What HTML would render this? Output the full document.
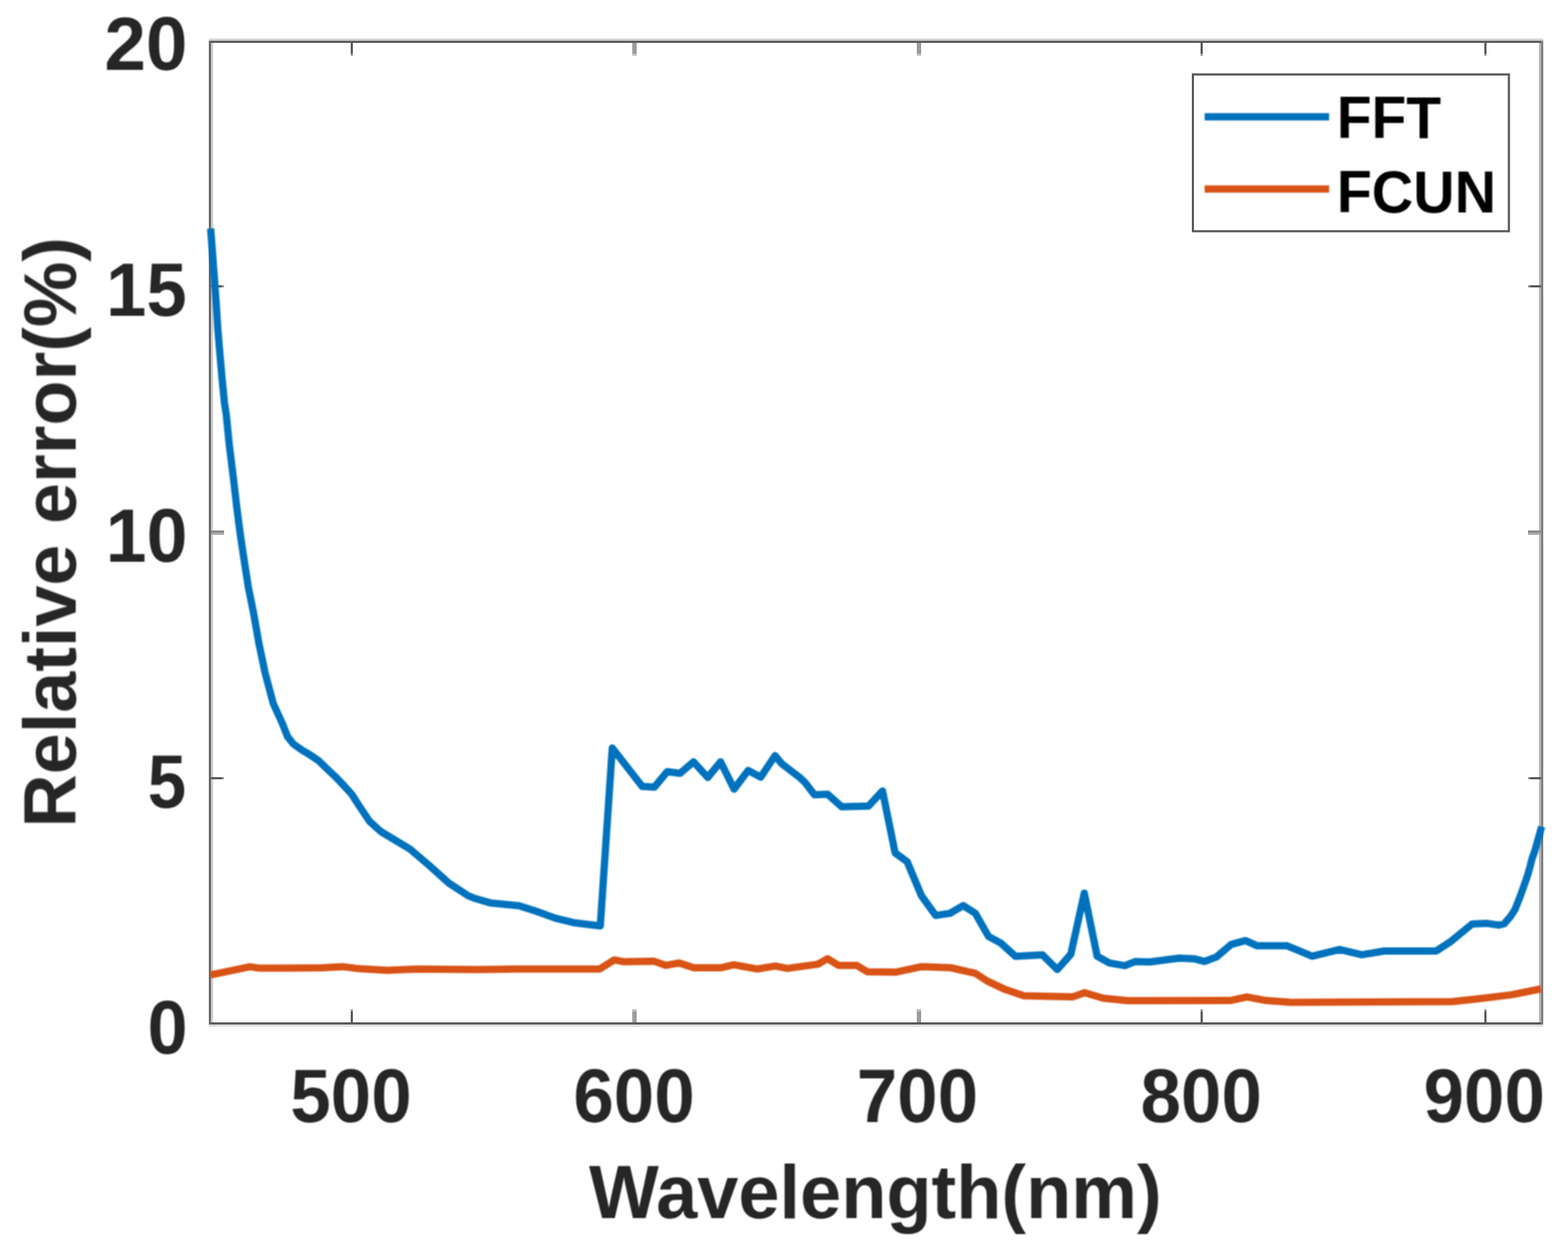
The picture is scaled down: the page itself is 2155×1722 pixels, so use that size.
<!DOCTYPE html>
<html><head><meta charset="utf-8"><title>Relative error vs Wavelength</title>
<style>html,body{margin:0;padding:0;background:#ffffff;overflow:hidden;width:2155px;height:1722px;}svg{display:block;}</style></head>
<body>
<svg width="2155" height="1722" viewBox="0 0 2155 1722">
<defs><filter id="soft" x="-2%" y="-2%" width="104%" height="104%"><feConvolveMatrix order="3" kernelMatrix="1 1 1 1 1 1 1 1 1" divisor="9" edgeMode="none"/></filter></defs>
<rect x="0" y="0" width="2155" height="1722" fill="#ffffff"/>
<rect x="287" y="53" width="1834" height="3" fill="#d3d3d3"/>
<rect x="287" y="56" width="1834" height="3" fill="#5e5e5e"/>
<rect x="287" y="1405" width="1834" height="3" fill="#5a5a5a"/>
<rect x="287" y="1408" width="1834" height="3" fill="#dedede"/>
<rect x="290" y="59" width="3" height="1346" fill="#d0d0d0"/>
<rect x="287" y="56" width="3" height="1352" fill="#686868"/>
<rect x="2115" y="59" width="3" height="1346" fill="#b8b8b8"/>
<rect x="2118" y="56" width="3" height="1352" fill="#808080"/>
<rect x="482" y="1390" width="3" height="15" fill="#5a5a5a"/><rect x="482" y="1387" width="3" height="3" fill="#9a9a9a"/>
<rect x="482" y="59" width="3" height="15" fill="#5a5a5a"/><rect x="482" y="74" width="3" height="3" fill="#a8a8a8"/>
<rect x="869" y="1390" width="6" height="15" fill="#9c9c9c"/><rect x="869" y="1387" width="6" height="3" fill="#bdbdbd"/>
<rect x="869" y="59" width="6" height="15" fill="#9c9c9c"/><rect x="869" y="74" width="6" height="3" fill="#c8c8c8"/>
<rect x="1260" y="1390" width="6" height="15" fill="#9c9c9c"/><rect x="1260" y="1387" width="6" height="3" fill="#bdbdbd"/>
<rect x="1260" y="59" width="6" height="15" fill="#9c9c9c"/><rect x="1260" y="74" width="6" height="3" fill="#c8c8c8"/>
<rect x="1650" y="1390" width="3" height="15" fill="#5a5a5a"/><rect x="1650" y="1387" width="3" height="3" fill="#9a9a9a"/>
<rect x="1650" y="59" width="3" height="15" fill="#5a5a5a"/><rect x="1650" y="74" width="3" height="3" fill="#a8a8a8"/>
<rect x="2040" y="1390" width="3" height="15" fill="#5a5a5a"/><rect x="2040" y="1387" width="3" height="3" fill="#9a9a9a"/>
<rect x="2040" y="59" width="3" height="15" fill="#5a5a5a"/><rect x="2040" y="74" width="3" height="3" fill="#a8a8a8"/>
<rect x="290" y="392" width="15" height="3" fill="#5a5a5a"/><rect x="305" y="392" width="3" height="3" fill="#9a9a9a"/>
<rect x="2103" y="392" width="15" height="3" fill="#5a5a5a"/><rect x="2100" y="392" width="3" height="3" fill="#9a9a9a"/>
<rect x="290" y="729" width="18" height="3" fill="#8c8c8c"/><rect x="290" y="732" width="18" height="3" fill="#aaaaaa"/>
<rect x="2100" y="729" width="18" height="3" fill="#8c8c8c"/><rect x="2100" y="732" width="18" height="3" fill="#aaaaaa"/>
<rect x="290" y="1068" width="15" height="3" fill="#5a5a5a"/><rect x="305" y="1068" width="3" height="3" fill="#9a9a9a"/>
<rect x="2103" y="1068" width="15" height="3" fill="#5a5a5a"/><rect x="2100" y="1068" width="3" height="3" fill="#9a9a9a"/>
<g filter="url(#soft)">
<g id="plot">
<polyline points="289.2,1339.8 343.3,1328.6 356.6,1330.6 392.3,1330.6 443.3,1330.1 471.9,1328.6 490.0,1330.9 531.8,1333.4 573.5,1331.7 657.1,1332.6 707.2,1331.7 824.1,1331.7 844.2,1319.2 856.7,1321.7 898.5,1320.9 915.2,1326.7 933.6,1323.4 953.6,1330.1 990.3,1330.1 1008.7,1325.9 1040.5,1331.7 1065.5,1327.6 1082.2,1330.9 1124.0,1325.1 1137.4,1317.5 1152.4,1326.7 1177.5,1326.7 1192.0,1335.5 1231.8,1335.9 1266.8,1328.4 1306.9,1330.0 1340.4,1337.6 1357.1,1348.4 1382.1,1360.1 1407.2,1368.5 1474.0,1370.1 1490.7,1364.3 1515.8,1371.8 1550.0,1375.2 1690.4,1375.1 1713.7,1370.1 1740.5,1375.1 1773.9,1377.6 1880.0,1377.0 1996.0,1376.4 2019.2,1374.1 2077.2,1367.1 2118.0,1359.0" fill="none" stroke="#D95319" stroke-width="10" stroke-linejoin="round" stroke-linecap="butt"/>
<polyline points="289.5,314.0 294.5,380.0 297.0,415.0 299.2,450.0 302.1,485.0 305.2,520.0 308.5,554.0 311.0,570.0 315.2,612.0 320.4,654.0 325.3,696.0 329.9,732.0 334.8,765.0 341.3,807.0 348.4,842.0 355.8,884.0 364.4,925.0 375.6,967.0 388.4,995.0 395.1,1012.1 403.2,1022.5 414.8,1030.7 426.5,1037.6 438.1,1045.7 449.7,1056.8 461.3,1067.8 472.9,1080.0 483.4,1091.5 493.9,1107.9 507.9,1128.8 523.5,1142.9 536.9,1150.9 563.6,1167.0 590.3,1189.7 617.0,1213.7 643.7,1231.1 651.3,1234.2 674.8,1241.1 713.2,1244.8 736.7,1252.3 763.4,1261.9 790.1,1268.3 825.0,1272.5 841.5,1028.0 882.7,1080.8 899.4,1081.7 917.0,1060.5 934.7,1062.7 953.2,1047.0 972.7,1068.5 990.3,1046.9 1008.9,1084.5 1028.3,1058.8 1045.5,1068.0 1065.2,1038.5 1074.4,1049.5 1090.7,1062.1 1098.8,1068.2 1106.9,1075.9 1113.0,1084.1 1119.5,1092.3 1137.4,1091.5 1156.8,1108.8 1193.6,1107.8 1212.9,1087.0 1230.2,1172.1 1246.8,1184.2 1266.4,1231.0 1286.0,1258.1 1305.7,1255.1 1323.8,1244.5 1340.4,1255.1 1358.5,1286.8 1375.1,1295.8 1395.6,1314.2 1432.7,1312.3 1453.1,1332.5 1471.7,1311.4 1490.2,1227.5 1507.9,1314.2 1524.6,1323.4 1545.9,1327.1 1559.8,1321.6 1580.0,1322.0 1620.8,1316.7 1641.3,1317.7 1655.5,1321.3 1671.9,1315.1 1692.3,1297.8 1711.7,1292.7 1728.0,1299.8 1768.9,1299.8 1803.3,1314.1 1841.0,1304.9 1871.7,1312.1 1902.3,1307.0 1973.8,1307.0 1994.2,1293.7 2023.1,1270.0 2043.0,1268.9 2059.6,1271.4 2067.3,1269.5 2075.6,1259.9 2082.0,1250.3 2085.8,1240.7 2089.6,1231.1 2094.1,1218.3 2098.6,1205.6 2102.4,1192.8 2105.6,1180.0 2109.6,1168.8 2118.8,1136.0" fill="none" stroke="#0072BD" stroke-width="10" stroke-linejoin="round" stroke-linecap="butt"/>
</g>
</g>
<rect x="1639.5" y="102.3" width="434.3" height="215.5" fill="#ffffff" stroke="#5a5a5a" stroke-width="3"/>
<g filter="url(#soft)">
<line x1="1655.6" y1="160.5" x2="1826.7" y2="160.5" stroke="#0072BD" stroke-width="10"/>
<line x1="1655.6" y1="259.8" x2="1826.7" y2="259.8" stroke="#D95319" stroke-width="10"/>
<text transform="translate(143.41 96.10) scale(1.0270 1.0450)" font-family="&quot;Liberation Sans&quot;, Arial, Helvetica, sans-serif" font-weight="bold" font-size="100" fill="#262626">20</text>
<text transform="translate(145.84 433.62) scale(0.9950 1.0450)" font-family="&quot;Liberation Sans&quot;, Arial, Helvetica, sans-serif" font-weight="bold" font-size="100" fill="#262626">15</text>
<text transform="translate(145.23 772.18) scale(1.0100 1.0450)" font-family="&quot;Liberation Sans&quot;, Arial, Helvetica, sans-serif" font-weight="bold" font-size="100" fill="#262626">10</text>
<text transform="translate(202.95 1109.70) scale(0.9500 1.0450)" font-family="&quot;Liberation Sans&quot;, Arial, Helvetica, sans-serif" font-weight="bold" font-size="100" fill="#262626">5</text>
<text transform="translate(202.81 1448.26) scale(0.9900 1.0450)" font-family="&quot;Liberation Sans&quot;, Arial, Helvetica, sans-serif" font-weight="bold" font-size="100" fill="#262626">0</text>
<text transform="translate(399.00 1541.55) scale(1.0000 1.0450)" font-family="&quot;Liberation Sans&quot;, Arial, Helvetica, sans-serif" font-weight="bold" font-size="100" fill="#262626">500</text>
<text transform="translate(788.00 1541.55) scale(1.0000 1.0450)" font-family="&quot;Liberation Sans&quot;, Arial, Helvetica, sans-serif" font-weight="bold" font-size="100" fill="#262626">600</text>
<text transform="translate(1177.50 1541.55) scale(1.0000 1.0450)" font-family="&quot;Liberation Sans&quot;, Arial, Helvetica, sans-serif" font-weight="bold" font-size="100" fill="#262626">700</text>
<text transform="translate(1567.50 1541.55) scale(1.0000 1.0450)" font-family="&quot;Liberation Sans&quot;, Arial, Helvetica, sans-serif" font-weight="bold" font-size="100" fill="#262626">800</text>
<text transform="translate(1956.50 1541.55) scale(1.0000 1.0450)" font-family="&quot;Liberation Sans&quot;, Arial, Helvetica, sans-serif" font-weight="bold" font-size="100" fill="#262626">900</text>
<text transform="translate(809.50 1674.11) scale(1.0169 1.0426)" font-family="&quot;Liberation Sans&quot;, Arial, Helvetica, sans-serif" font-weight="bold" font-size="100" fill="#262626">Wavelength(nm)</text>
<text transform="translate(1837.22 190.45) scale(0.7829 0.8116)" font-family="&quot;Liberation Sans&quot;, Arial, Helvetica, sans-serif" font-weight="bold" font-size="100" fill="#000">FFT</text>
<text transform="translate(1837.18 291.60) scale(0.7890 0.8072)" font-family="&quot;Liberation Sans&quot;, Arial, Helvetica, sans-serif" font-weight="bold" font-size="100" fill="#000">FCUN</text>
<g transform="translate(77.30 730.65) rotate(-90)"><text transform="scale(1.0143 1.0191) translate(-401.00 26.00)" font-family="&quot;Liberation Sans&quot;, Arial, Helvetica, sans-serif" font-weight="bold" font-size="100" fill="#262626">Relative error(%)</text></g>
</g>
</svg>
</body></html>
